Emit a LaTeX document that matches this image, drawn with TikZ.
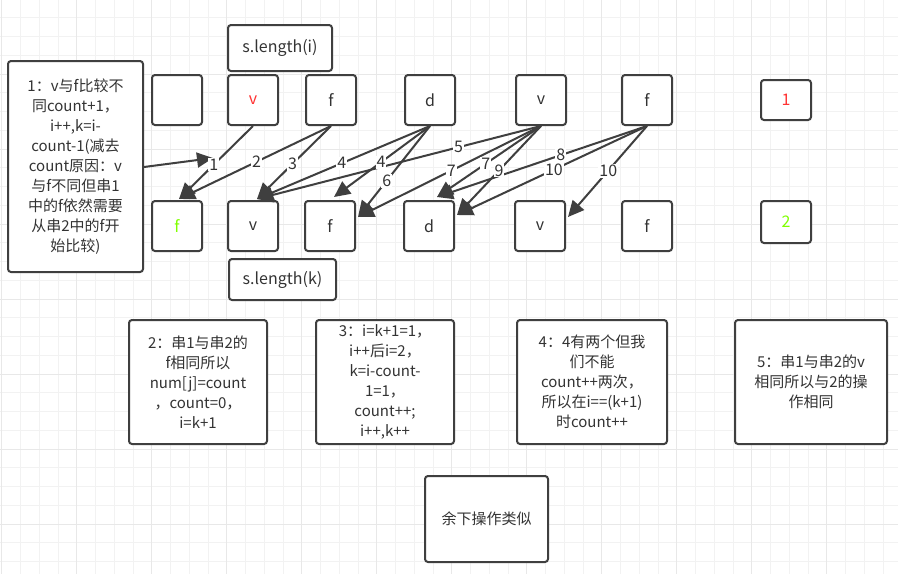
\documentclass[tikz,border=0pt]{standalone}
\usepackage{fontspec}
\setmainfont{Noto Sans CJK SC}
\usetikzlibrary{arrows.meta,calc}
\definecolor{ink}{HTML}{333333}
\definecolor{bd}{HTML}{3F3F3F}
\definecolor{gmin}{HTML}{F2F2F2}
\definecolor{gmaj}{HTML}{E8E8E8}
\definecolor{redt}{HTML}{FF3333}
\definecolor{greent}{HTML}{80FF00}
\begin{document}
\begin{tikzpicture}[x=1pt,y=-1pt,
  box/.style={draw=bd, line width=2pt, rounded corners=3pt, fill=white, text=ink,
    inner sep=0pt, font=\fontsize{16}{19}\selectfont},
  cell/.style={box, minimum width=50pt, minimum height=50pt},
  txt/.style={box, align=center, font=\fontsize{15}{20}\selectfont},
  arr/.style={draw=bd, line width=2pt, -{Triangle[length=16pt,width=15pt]}},
  lab/.style={fill=white, inner sep=1pt, text=ink, font=\fontsize{16}{16}\selectfont}]
\useasboundingbox (0,0) rectangle (898,574);
\fill[white] (0,0) rectangle (898,574);
% grid
\foreach \i in {0,...,48} {\draw[gmin, line width=0.8pt] ({1.7+18.75*\i},0) -- ({1.7+18.75*\i},574);}
\foreach \i in {0,...,31} {\draw[gmin, line width=0.8pt] (0,{-1+18.75*\i}) -- (898,{-1+18.75*\i});}
\foreach \i in {0,...,12} {\draw[gmaj, line width=1pt] ({1.7+75*\i},0) -- ({1.7+75*\i},574);}
\foreach \i in {0,...,8} {\draw[gmaj, line width=1pt] (0,{-1+75*\i}) -- (898,{-1+75*\i});}

% top row
\node[box, minimum width=104pt, minimum height=46pt] (si) at (280,48) {s.length(i)};
\node[cell] (te) at (177,100) {};
\node[cell, text=redt] (tv) at (253,100) {v};
\node[cell] (tf) at (331,100) {f};
\node[cell] (td) at (430,100) {d};
\node[cell] (tv2) at (541,100) {v};
\node[cell] (tf2) at (647,100) {f};
\node[box, minimum width=50pt, minimum height=40pt, text=redt] (t1) at (786,100) {1};

% bottom row
\node[cell, text=greent] (fb1) at (177,226) {f};
\node[cell] (vb2) at (253,226) {v};
\node[cell] (fb3) at (330,226) {f};
\node[cell] (db4) at (429,226) {d};
\node[cell] (vb5) at (540,226) {v};
\node[cell] (fb6) at (647,226) {f};
\node[box, minimum width=50pt, minimum height=42pt, text=greent] (b2) at (786,222) {2};
\node[box, minimum width=107pt, minimum height=41pt] (sk) at (282.5,279.5) {s.length(k)};

% text boxes
\node[txt, minimum width=135pt, minimum height=211pt] (L) at (75.5,166.5)
  {1：v与f比较不\\同count+1，\\i++,k=i-\\count-1(减去\\count原因：v\\与f不同但串1\\中的f依然需要\\从串2中的f开\\始比较)};
\node[txt, minimum width=138pt, minimum height=124pt] (B2) at (198,382)
  {2：串1与串2的\\f相同所以\\num[j]=count\\，count=0，\\i=k+1};
\node[txt, minimum width=138pt, minimum height=124pt] (B3) at (385,382)
  {3：i=k+1=1，\\i++后i=2，\\k=i-count-\\1=1，\\count++;\\i++,k++};
\node[txt, minimum width=150pt, minimum height=124pt] (B4) at (592,382)
  {4：4有两个但我\\们不能\\count++两次，\\所以在i==(k+1)\\时count++};
\node[txt, minimum width=152pt, minimum height=124pt] (B5) at (811,382)
  {5：串1与串2的v\\相同所以与2的操\\作相同};
\node[txt, minimum width=123pt, minimum height=86pt] (B6) at (486.5,519) {余下操作类似};

% tip coordinates
\coordinate (p1) at ($(fb1.north)+(2,-1)$);
\coordinate (p2) at ($(vb2.north)+(4,-1)$);
\coordinate (p3) at ($(fb3.north)+(4,-3)$);
\coordinate (p4) at ($(fb3.east)+(2,-9)$);
\coordinate (p5) at ($(db4.north)+(8,-3)$);
\coordinate (p6) at ($(db4.east)+(2,-11)$);
\coordinate (p7) at ($(vb5.east)+(2,-9)$);
\coordinate (q0) at (213,158);

% arrows
\draw[arr] (L.east |- 0,167) -- (q0);
\draw[arr] (tv.south) -- (p1);
\draw[arr] (tf.south) -- (p1);
\draw[arr] (tf.south) -- (p2);
\draw[arr] (td.south) -- (p2);
\draw[arr] (td.south) -- (p3);
\draw[arr] (td.south) -- (p4);
\draw[arr] (tv2.south) -- (p2);
\draw[arr] (tv2.south) -- (p4);
\draw[arr] (tv2.south) -- (p5);
\draw[arr] (tf2.south) -- (p5);
\draw[arr] (tv2.south) -- (p6);
\draw[arr] (tf2.south) -- (p6);
\draw[arr] (tf2.south) -- (p7);

% labels
\node[lab] (l1) at ($(tv.south)!.53!(p1)$) {1};
\node[lab] (l2) at ($(tf.south)!.49!(p1)$) {2};
\node[lab] (l3) at ($(tf.south)!.52!(p2)$) {3};
\node[lab] (l4a) at ($(td.south)!.51!(p2)$) {4};
\node[lab] (l4b) at ($(td.south)!.51!(p3)$) {4};
\node[lab] (l6) at ($(td.south)!.6!(p4)$) {6};
\node[lab] (l5) at ($(tv2.south)!.29!(p2)$) {5};
\node[lab] (l7a) at ($(tv2.south)!.49!(p4)$) {7};
\node[lab] (l7b) at ($(tv2.south)!.53!(p5)$) {7};
\node[lab] (l8) at ($(tf2.south)!.41!(p5)$) {8};
\node[lab] (l9) at ($(tv2.south)!.5!(p6)$) {9};
\node[lab] (l10a) at ($(tf2.south)!.49!(p6)$) {10};
\node[lab] (l10b) at ($(tf2.south)!.49!(p7)$) {10};
\end{tikzpicture}
\end{document}
